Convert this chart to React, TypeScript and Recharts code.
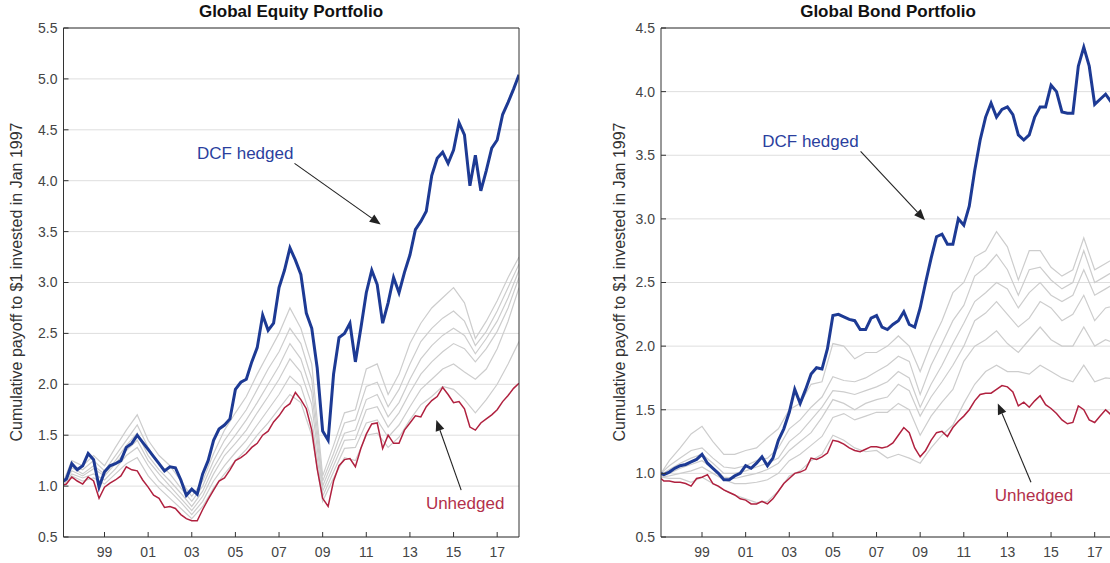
import { CartesianGrid, Line, LineChart, ReferenceDot, ReferenceLine, XAxis, YAxis } from "recharts";

// quarterly dates for the two highlighted portfolios, half-yearly for the grey peer lines
const quarters = [1997.12, ...Array.from({ length: 84 }, (_, i) => 1997.25 + i * 0.25)];
const halfYears = [1997.12, ...Array.from({ length: 42 }, (_, i) => 1997.5 + i * 0.5)];
const yearTicks = [1999, 2001, 2003, 2005, 2007, 2009, 2011, 2013, 2015, 2017];
const equityTicks = [0.5, 1, 1.5, 2, 2.5, 3, 3.5, 4, 4.5, 5, 5.5];
const bondTicks = [0.5, 1, 1.5, 2, 2.5, 3, 3.5, 4, 4.5];

const equityHedged = [
  1.05, 1.07, 1.22, 1.16,
  1.2, 1.32, 1.26, 0.99,
  1.14, 1.2, 1.22, 1.25,
  1.38, 1.42, 1.5, 1.43,
  1.36, 1.29, 1.22, 1.15,
  1.19, 1.18, 1.06, 0.91,
  0.97, 0.92, 1.12, 1.25,
  1.45, 1.56, 1.6, 1.66,
  1.95, 2.02, 2.05, 2.22,
  2.36, 2.68, 2.53, 2.6,
  2.95, 3.12, 3.34, 3.22,
  3.08, 2.7, 2.55, 2.16,
  1.54, 1.45, 2.1, 2.46,
  2.5, 2.6, 2.22, 2.55,
  2.9, 3.12, 2.98, 2.6,
  2.8, 3.05, 2.9, 3.1,
  3.27, 3.52, 3.6, 3.7,
  4.05, 4.22, 4.28, 4.17,
  4.3, 4.57, 4.45, 3.95,
  4.25, 3.9, 4.1, 4.32,
  4.4, 4.65, 4.77, 4.9,
  5.04,
];

const equityUnhedged = [
  1.01, 1.02, 1.09, 1.05,
  1.02, 1.09, 1.05, 0.88,
  0.99, 1.03, 1.06, 1.1,
  1.19, 1.16, 1.15, 1.06,
  0.99, 0.91, 0.88, 0.79,
  0.8, 0.78, 0.72, 0.68,
  0.66, 0.66, 0.77, 0.87,
  0.96, 1.05, 1.08, 1.16,
  1.25, 1.28, 1.32, 1.38,
  1.42, 1.5, 1.54, 1.63,
  1.69, 1.77, 1.81, 1.92,
  1.85, 1.76, 1.55, 1.17,
  0.88, 0.8, 1.05, 1.2,
  1.26, 1.27, 1.19, 1.37,
  1.51, 1.61, 1.62, 1.37,
  1.5, 1.42, 1.42, 1.55,
  1.62, 1.69, 1.68, 1.78,
  1.84, 1.88, 1.97, 1.9,
  1.82, 1.83, 1.76, 1.58,
  1.55, 1.62, 1.66, 1.7,
  1.75, 1.83, 1.89, 1.96,
  2.01,
];

const bondHedged = [
  1.0, 0.99, 1.01, 1.04,
  1.06, 1.07, 1.09, 1.11,
  1.15, 1.08, 1.04, 1.0,
  0.95, 0.95, 0.98, 1.0,
  1.06, 1.04, 1.08, 1.13,
  1.06, 1.12, 1.26, 1.35,
  1.48, 1.66, 1.55, 1.66,
  1.78, 1.83, 1.82, 1.98,
  2.24, 2.25, 2.23, 2.21,
  2.2, 2.13, 2.13, 2.22,
  2.24, 2.15, 2.13, 2.17,
  2.2, 2.27, 2.17, 2.15,
  2.3, 2.5, 2.69, 2.86,
  2.88, 2.8, 2.8, 3.0,
  2.95, 3.1, 3.38, 3.62,
  3.8, 3.91, 3.8, 3.86,
  3.88, 3.82, 3.66, 3.62,
  3.66, 3.8, 3.88, 3.88,
  4.05, 4.0, 3.84, 3.83,
  3.83, 4.2, 4.35, 4.2,
  3.9, 3.94, 3.98, 3.92,
  3.84,
];

const bondUnhedged = [
  0.96, 0.94, 0.94, 0.93,
  0.93, 0.92, 0.9, 0.96,
  0.97, 0.99, 0.92, 0.9,
  0.87, 0.85, 0.83, 0.8,
  0.79, 0.76, 0.76, 0.78,
  0.76, 0.8, 0.86, 0.92,
  0.96, 1.0, 1.01, 1.03,
  1.12, 1.11, 1.13, 1.16,
  1.26, 1.25, 1.23, 1.2,
  1.18, 1.17, 1.19, 1.21,
  1.21, 1.2, 1.21, 1.24,
  1.3, 1.36, 1.32, 1.2,
  1.13, 1.18, 1.26, 1.32,
  1.33, 1.29, 1.36, 1.41,
  1.45, 1.5, 1.57, 1.62,
  1.63, 1.63, 1.66, 1.69,
  1.68, 1.64, 1.53, 1.56,
  1.52, 1.57, 1.61, 1.54,
  1.51, 1.47, 1.42, 1.39,
  1.4, 1.53, 1.5, 1.42,
  1.4, 1.45, 1.5, 1.46,
  1.47,
];

// one row per half-year, six grey peer strategies each
const equityPeers = [
  [1.05, 1.04, 1.04, 1.03, 1.02, 1.02],
  [1.25, 1.2, 1.18, 1.15, 1.12, 1.1],
  [1.2, 1.16, 1.12, 1.1, 1.08, 1.05],
  [1.3, 1.25, 1.2, 1.17, 1.12, 1.08],
  [1.2, 1.15, 1.12, 1.1, 1.06, 1.02],
  [1.38, 1.3, 1.25, 1.22, 1.17, 1.12],
  [1.55, 1.45, 1.4, 1.35, 1.3, 1.22],
  [1.7, 1.6, 1.52, 1.45, 1.38, 1.28],
  [1.45, 1.38, 1.3, 1.25, 1.2, 1.1],
  [1.3, 1.22, 1.16, 1.12, 1.05, 0.98],
  [1.2, 1.12, 1.05, 1.0, 0.95, 0.88],
  [1.05, 0.98, 0.93, 0.88, 0.84, 0.78],
  [0.9, 0.85, 0.8, 0.76, 0.72, 0.68],
  [1.05, 1.0, 0.95, 0.9, 0.85, 0.8],
  [1.32, 1.25, 1.18, 1.12, 1.05, 0.98],
  [1.55, 1.45, 1.36, 1.3, 1.2, 1.12],
  [1.72, 1.6, 1.5, 1.42, 1.33, 1.25],
  [1.88, 1.75, 1.65, 1.55, 1.45, 1.36],
  [2.1, 1.95, 1.82, 1.72, 1.6, 1.5],
  [2.3, 2.15, 2.0, 1.88, 1.75, 1.62],
  [2.5, 2.32, 2.18, 2.05, 1.9, 1.76],
  [2.75, 2.55, 2.4, 2.25, 2.08, 1.9],
  [2.55, 2.4, 2.25, 2.12, 1.98, 1.82],
  [2.2, 2.05, 1.92, 1.8, 1.65, 1.5],
  [1.1, 1.05, 1.0, 0.95, 0.9, 0.85],
  [1.4, 1.32, 1.26, 1.2, 1.14, 1.08],
  [1.72, 1.62, 1.52, 1.45, 1.37, 1.28],
  [1.75, 1.65, 1.55, 1.46, 1.38, 1.25],
  [2.15, 1.98, 1.85, 1.75, 1.62, 1.5],
  [2.2, 2.02, 1.9, 1.78, 1.65, 1.52],
  [1.9, 1.78, 1.68, 1.58, 1.48, 1.38],
  [2.1, 1.95, 1.82, 1.72, 1.6, 1.48],
  [2.4, 2.2, 2.05, 1.92, 1.78, 1.65],
  [2.6, 2.42, 2.25, 2.1, 1.95, 1.8],
  [2.75, 2.55, 2.38, 2.22, 2.05, 1.88],
  [2.85, 2.65, 2.48, 2.32, 2.15, 1.98],
  [2.95, 2.72, 2.55, 2.4, 2.2, 1.95],
  [2.8, 2.62, 2.48, 2.35, 2.12, 1.85],
  [2.45, 2.38, 2.3, 2.22, 2.05, 1.72],
  [2.62, 2.52, 2.45, 2.35, 2.15, 1.85],
  [2.82, 2.72, 2.62, 2.52, 2.35, 2.0],
  [3.05, 2.95, 2.85, 2.75, 2.62, 2.2],
  [3.25, 3.18, 3.12, 3.05, 2.95, 2.42],
];

const bondPeers = [
  [1.0, 1.0, 0.99, 0.98, 0.97, 0.97],
  [1.1, 1.06, 1.03, 1.0, 0.98, 0.96],
  [1.2, 1.12, 1.08, 1.04, 1.0, 0.96],
  [1.31, 1.18, 1.12, 1.07, 1.02, 0.93],
  [1.37, 1.2, 1.15, 1.1, 1.05, 0.97],
  [1.25, 1.12, 1.08, 1.04, 1.0, 0.92],
  [1.15, 1.05, 1.0, 0.97, 0.95, 0.87],
  [1.15, 1.04, 1.0, 0.96, 0.92, 0.83],
  [1.18, 1.06, 1.02, 0.98, 0.92, 0.8],
  [1.2, 1.1, 1.05, 1.0, 0.93, 0.77],
  [1.28, 1.12, 1.08, 1.03, 0.95, 0.78],
  [1.35, 1.2, 1.12, 1.08, 1.0, 0.86],
  [1.5, 1.35, 1.25, 1.18, 1.1, 0.98],
  [1.55, 1.42, 1.32, 1.25, 1.15, 1.02],
  [1.7, 1.52, 1.42, 1.32, 1.22, 1.1],
  [1.72, 1.6, 1.52, 1.44, 1.29, 1.15],
  [2.02, 1.76, 1.65, 1.58, 1.44, 1.3],
  [2.0, 1.73, 1.64, 1.55, 1.47, 1.26],
  [1.9, 1.72, 1.62, 1.5, 1.42, 1.2],
  [1.95, 1.75, 1.65, 1.55, 1.45, 1.17],
  [1.95, 1.8, 1.68, 1.58, 1.48, 1.18],
  [2.0, 1.85, 1.72, 1.6, 1.48, 1.12],
  [2.08, 1.92, 1.8, 1.7, 1.55, 1.15],
  [2.0, 1.88, 1.75, 1.65, 1.5, 1.12],
  [1.8, 1.62, 1.52, 1.45, 1.3, 1.08],
  [2.02, 1.85, 1.7, 1.6, 1.45, 1.2],
  [2.2, 2.02, 1.85, 1.72, 1.56, 1.3],
  [2.42, 2.2, 2.02, 1.85, 1.66, 1.38],
  [2.5, 2.32, 2.18, 2.0, 1.88, 1.55],
  [2.7, 2.55, 2.35, 2.2, 2.0, 1.7],
  [2.75, 2.62, 2.42, 2.26, 2.05, 1.8],
  [2.9, 2.72, 2.5, 2.35, 2.12, 1.85],
  [2.78, 2.6, 2.45, 2.25, 2.02, 1.8],
  [2.52, 2.4, 2.3, 2.15, 1.95, 1.8],
  [2.75, 2.6, 2.42, 2.22, 2.05, 1.78],
  [2.75, 2.62, 2.5, 2.35, 2.15, 1.85],
  [2.62, 2.52, 2.4, 2.3, 2.05, 1.8],
  [2.55, 2.45, 2.35, 2.2, 2.0, 1.75],
  [2.6, 2.5, 2.4, 2.25, 2.0, 1.72],
  [2.85, 2.75, 2.6, 2.4, 2.15, 1.85],
  [2.6, 2.5, 2.4, 2.2, 2.0, 1.72],
  [2.65, 2.55, 2.45, 2.3, 2.05, 1.75],
  [2.7, 2.6, 2.5, 2.32, 2.02, 1.74],
];

const BLUE = "#1d3a94";
const RED = "#b0213f";
const GREY = "#cdcdcd";
const X_DOMAIN: [number, number] = [1997.12, 2018];

type Note = { text: string; color: string; at: [number, number]; from: [number, number]; to: [number, number] };

const equityNotes: Note[] = [
  { text: "DCF hedged", color: "#2b3f9e", at: [2005.45, 4.27], from: [2007.71, 4.17], to: [2011.66, 3.57] },
  { text: "Unhedged", color: "#b3304b", at: [2015.53, 0.83], from: [2015.35, 0.96], to: [2014.21, 1.65] },
];
const bondNotes: Note[] = [
  { text: "DCF hedged", color: "#2b3f9e", at: [2003.97, 3.61], from: [2006.27, 3.53], to: [2009.22, 2.99] },
  { text: "Unhedged", color: "#b3304b", at: [2014.22, 0.83], from: [2014.08, 0.93], to: [2012.56, 1.55] },
];

const fmtYear = (t: number) => String(t % 100).padStart(2, "0");

function Arrow(props: any) {
  const { x1, y1, x2, y2 } = props;
  const dx = x2 - x1;
  const dy = y2 - y1;
  const len = Math.sqrt(dx * dx + dy * dy) || 1;
  const ux = dx / len;
  const uy = dy / len;
  const bx = x2 - ux * 11;
  const by = y2 - uy * 11;
  const px = -uy * 4.5;
  const py = ux * 4.5;
  return (
    <g>
      <line x1={x1} y1={y1} x2={bx} y2={by} stroke="#222" strokeWidth={1.1} />
      <polygon points={`${x2},${y2} ${bx + px},${by + py} ${bx - px},${by - py}`} fill="#222" />
    </g>
  );
}

type PanelProps = {
  left: number;
  marginLeft: number;
  marginRight: number;
  ticks: number[];
  hedged: number[];
  unhedged: number[];
  peers: number[][];
  notes: Note[];
};

function Panel({ left, marginLeft, marginRight, ticks, hedged, unhedged, peers, notes }: PanelProps) {
  const main = quarters.map((t, i) => ({ t, hedged: hedged[i], unhedged: unhedged[i] }));
  const peerRows = halfYears.map((t, i) => {
    const row: Record<string, number> = { t };
    peers[i].forEach((v, k) => (row[`p${k}`] = v));
    return row;
  });
  const yDomain: [number, number] = [ticks[0], ticks[ticks.length - 1]];

  return (
    <div style={{ position: "absolute", left, top: 0 }}>
      <LineChart width={540} height={563} margin={{ top: 18, right: marginRight, bottom: 0, left: marginLeft }}>
        <CartesianGrid vertical={false} stroke="#dedede" />
        <XAxis
          dataKey="t"
          type="number"
          domain={X_DOMAIN}
          allowDataOverflow
          ticks={yearTicks}
          tickFormatter={fmtYear}
          height={26}
          tickSize={-5}
          tickMargin={15}
          stroke="#333"
          tick={{ fill: "#444", fontSize: 14 }}
        />
        <XAxis
          xAxisId="top"
          orientation="top"
          dataKey="t"
          type="number"
          domain={X_DOMAIN}
          allowDataOverflow
          ticks={yearTicks}
          tick={false}
          height={10}
          tickSize={-5}
          stroke="#333"
        />
        <YAxis
          domain={yDomain}
          ticks={ticks}
          allowDataOverflow
          width={50}
          tickSize={-5}
          tickMargin={11}
          tickFormatter={(v: number) => v.toFixed(1)}
          stroke="#333"
          tick={{ fill: "#444", fontSize: 14 }}
        />
        <YAxis
          yAxisId="right"
          orientation="right"
          domain={yDomain}
          ticks={ticks}
          allowDataOverflow
          tick={false}
          width={10}
          tickSize={-5}
          stroke="#333"
        />
        {peers[0].map((_, k) => (
          <Line
            key={k}
            data={peerRows}
            dataKey={`p${k}`}
            type="linear"
            dot={false}
            stroke={GREY}
            strokeWidth={1.2}
            isAnimationActive={false}
          />
        ))}
        <Line data={main} dataKey="unhedged" type="linear" dot={false} stroke={RED} strokeWidth={1.5} isAnimationActive={false} />
        <Line data={main} dataKey="hedged" type="linear" dot={false} stroke={BLUE} strokeWidth={3} isAnimationActive={false} />
        {notes.map((n) => (
          <ReferenceLine
            key={`a-${n.text}`}
            segment={[
              { x: n.from[0], y: n.from[1] },
              { x: n.to[0], y: n.to[1] },
            ]}
            shape={Arrow}
          />
        ))}
        {notes.map((n) => (
          <ReferenceDot
            key={`t-${n.text}`}
            x={n.at[0]}
            y={n.at[1]}
            r={0}
            shape={(p: any) => (
              <text x={p.cx} y={p.cy} textAnchor="middle" dominantBaseline="central" fill={n.color} fontSize={17}>
                {n.text}
              </text>
            )}
          />
        ))}
      </LineChart>
    </div>
  );
}

function Title({ cx, text }: { cx: number; text: string }) {
  return (
    <div
      style={{
        position: "absolute",
        left: cx - 200,
        top: 2,
        width: 400,
        textAlign: "center",
        fontWeight: "bold",
        fontSize: 17,
        lineHeight: "20px",
        color: "#111",
      }}
    >
      {text}
    </div>
  );
}

function AxisTitle({ cx, cy }: { cx: number; cy: number }) {
  return (
    <div
      style={{
        position: "absolute",
        left: cx - 200,
        top: cy - 10,
        width: 400,
        height: 20,
        lineHeight: "20px",
        textAlign: "center",
        fontSize: 16,
        color: "#333",
        transform: "rotate(-90deg)",
      }}
    >
      Cumulative payoff to $1 invested in Jan 1997
    </div>
  );
}

export default function App() {
  return (
    <div
      style={{
        position: "absolute",
        left: 0,
        top: 0,
        width: 1110,
        height: 563,
        overflow: "hidden",
        background: "#fff",
        fontFamily: '"Liberation Sans", Arial, sans-serif',
      }}
    >
      <Panel
        left={0}
        marginLeft={13.5}
        marginRight={11}
        ticks={equityTicks}
        hedged={equityHedged}
        unhedged={equityUnhedged}
        peers={equityPeers}
        notes={equityNotes}
      />
      <Panel
        left={600}
        marginLeft={11}
        marginRight={13.5}
        ticks={bondTicks}
        hedged={bondHedged}
        unhedged={bondUnhedged}
        peers={bondPeers}
        notes={bondNotes}
      />
      <Title cx={291} text="Global Equity Portfolio" />
      <Title cx={888} text="Global Bond Portfolio" />
      <AxisTitle cx={17} cy={282} />
      <AxisTitle cx={620} cy={282} />
    </div>
  );
}
